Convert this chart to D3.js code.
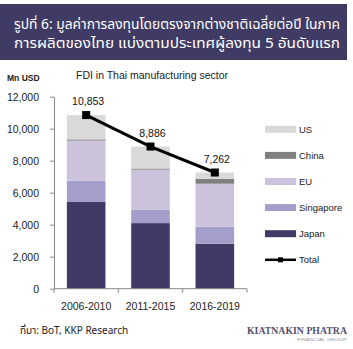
<!DOCTYPE html>
<html>
<head>
<meta charset="utf-8">
<script src="https://cdn.jsdelivr.net/npm/d3@7"></script>
<style>
  html, body { margin: 0; padding: 0; background: #fff; }
  svg { display: block; }
  text { font-family: "Liberation Sans", Arial, sans-serif; }
</style>
</head>
<body>
<svg id="chart" width="353" height="349"></svg>
<script>
const titleLines = ["รูปที่ 6: มูลค่าการลงทุนโดยตรงจากต่างชาติเฉลี่ยต่อปี ในภาค", "การผลิตของไทย แบ่งตามประเทศผู้ลงทุน 5 อันดับแรก"];
const subtitle = "FDI in Thai manufacturing sector";
const unitLabel = "Mn USD";
const sourceText = "ที่มา: BoT, KKP Research";
const categories = ["2006-2010", "2011-2015", "2016-2019"];
const japan = [5420, 4100, 2810];
const singapore = [1330, 840, 1060];
const eu = [2500, 2500, 2690];
const china = [80, 70, 310];
const us = [1523, 1376, 392];
const total = [10853, 8886, 7262];
const yTicks = [0, 2000, 4000, 6000, 8000, 10000, 12000];
const seriesNames = ["Japan", "Singapore", "EU", "China", "US"];
const seriesColors = ["#403a66", "#a49fca", "#ccc2dc", "#808080", "#d9d9d9"];

const svg = d3.select("#chart");

// Title banner
svg.append("rect").attr("x", 0).attr("y", 4).attr("width", 347).attr("height", 56).attr("fill", "#403b64");
svg.selectAll("text.title").data(titleLines).enter().append("text")
  .attr("class", "title")
  .attr("x", 14).attr("y", (d, i) => 29 + i * 19)
  .attr("textLength", 326).attr("lengthAdjust", "spacingAndGlyphs")
  .attr("fill", "#ffffff").style("font-size", "13.5px")
  .style("font-family", "'Noto Sans Thai', 'Noto Sans', 'DejaVu Sans', sans-serif")
  .text(d => d);

svg.append("text").attr("x", 7).attr("y", 81).attr("fill", "#222")
  .style("font-size", "8.5px").style("font-weight", "bold").text(unitLabel);
svg.append("text").attr("x", 76).attr("y", 79).attr("fill", "#222")
  .attr("textLength", 152).attr("lengthAdjust", "spacingAndGlyphs")
  .style("font-size", "11.5px").text(subtitle);

// Scales
const x = d3.scaleBand().domain(categories).range([54, 247]).paddingInner(0.4).paddingOuter(0.2);
const y = d3.scaleLinear().domain([0, 12000]).range([288.7, 96.7]);

// Stack
const rows = categories.map((c, i) => ({
  cat: c, Japan: japan[i], Singapore: singapore[i], EU: eu[i], China: china[i], US: us[i]
}));
const stacked = d3.stack().keys(seriesNames)(rows);
const g = svg.append("g");
g.selectAll("g.series").data(stacked).enter().append("g")
  .attr("fill", (d, i) => seriesColors[i])
  .selectAll("rect").data(d => d).enter().append("rect")
  .attr("x", d => x(d.data.cat))
  .attr("width", x.bandwidth())
  .attr("y", d => y(d[1]))
  .attr("height", d => y(d[0]) - y(d[1]));

// Y axis
const axisColor = "#888";
const yAxis = svg.append("g").attr("transform", "translate(54,0)")
  .call(d3.axisLeft(y).tickValues(yTicks).tickFormat(d3.format(",")).tickSize(4).tickSizeOuter(0).tickPadding(11));
yAxis.select(".domain").attr("stroke", axisColor);
yAxis.selectAll(".tick line").attr("stroke", axisColor);
yAxis.selectAll(".tick text").attr("fill", "#222").style("font-size", "10.5px")
  .style("font-family", "'Liberation Sans', Arial, sans-serif");

// X axis
const xAxis = svg.append("g");
xAxis.append("line").attr("x1", x.range()[0]).attr("x2", x.range()[1])
  .attr("y1", y(0)).attr("y2", y(0)).attr("stroke", axisColor);
d3.range(categories.length + 1).forEach(i => {
  const xp = x.range()[0] + i * x.step();
  xAxis.append("line").attr("x1", xp).attr("x2", xp).attr("y1", y(0)).attr("y2", y(0) + 4).attr("stroke", axisColor);
});
xAxis.selectAll("text").data(categories).enter().append("text")
  .attr("x", d => x(d) + x.bandwidth() / 2).attr("y", 309.5)
  .attr("text-anchor", "middle").attr("fill", "#222").style("font-size", "10.5px").text(d => d);

// Total line
const pts = categories.map((c, i) => [x(c) + x.bandwidth() / 2, y(total[i])]);
svg.append("path").attr("d", d3.line()(pts)).attr("fill", "none").attr("stroke", "#000").attr("stroke-width", 3);
svg.selectAll("rect.mk").data(pts).enter().append("rect").attr("class", "mk")
  .attr("x", d => d[0] - 4).attr("y", d => d[1] - 4).attr("width", 8).attr("height", 8).attr("fill", "#000");
svg.selectAll("text.lbl").data(categories).enter().append("text").attr("class", "lbl")
  .attr("x", (d, i) => x(d) + x.bandwidth() / 2 + 2).attr("y", (d, i) => y(total[i]) - 10)
  .attr("text-anchor", "middle").attr("fill", "#111").style("font-size", "10.5px")
  .text((d, i) => d3.format(",")(total[i]));

// Legend
const legendItems = ["US", "China", "EU", "Singapore", "Japan"];
const lg = svg.append("g");
legendItems.forEach((name, i) => {
  const cy = 129.3 + i * 26.1;
  const col = seriesColors[seriesNames.indexOf(name)];
  lg.append("rect").attr("x", 265).attr("y", cy - 3.5).attr("width", 31).attr("height", 7).attr("fill", col);
  lg.append("text").attr("x", 299).attr("y", cy + 3.5).attr("fill", "#222").style("font-size", "9.5px").text(name);
});
{
  const cy = 129.3 + 5 * 26.1;
  lg.append("line").attr("x1", 265).attr("x2", 296).attr("y1", cy).attr("y2", cy).attr("stroke", "#000").attr("stroke-width", 2.5);
  lg.append("rect").attr("x", 278).attr("y", cy - 2.5).attr("width", 5).attr("height", 5).attr("fill", "#000");
  lg.append("text").attr("x", 299).attr("y", cy + 3.5).attr("fill", "#222").style("font-size", "9.5px").text("Total");
}

// Source and logo
svg.append("text").attr("x", 20).attr("y", 334).attr("fill", "#222")
  .style("font-size", "10px").style("font-family", "'Noto Sans Thai', 'Liberation Sans', sans-serif")
  .text(sourceText);
svg.append("text").attr("x", 347).attr("y", 333.5).attr("text-anchor", "end").attr("fill", "#55506e")
  .attr("textLength", 100).attr("lengthAdjust", "spacingAndGlyphs")
  .style("font-size", "10px").style("font-weight", "bold").style("font-family", "'Liberation Serif', serif")
  .text("KIATNAKIN PHATRA");
svg.append("text").attr("x", 347).attr("y", 340.5).attr("text-anchor", "end").attr("fill", "#999")
  .attr("textLength", 50).attr("lengthAdjust", "spacingAndGlyphs")
  .style("font-size", "4px").text("FINANCIAL GROUP");
</script>
</body>
</html>
